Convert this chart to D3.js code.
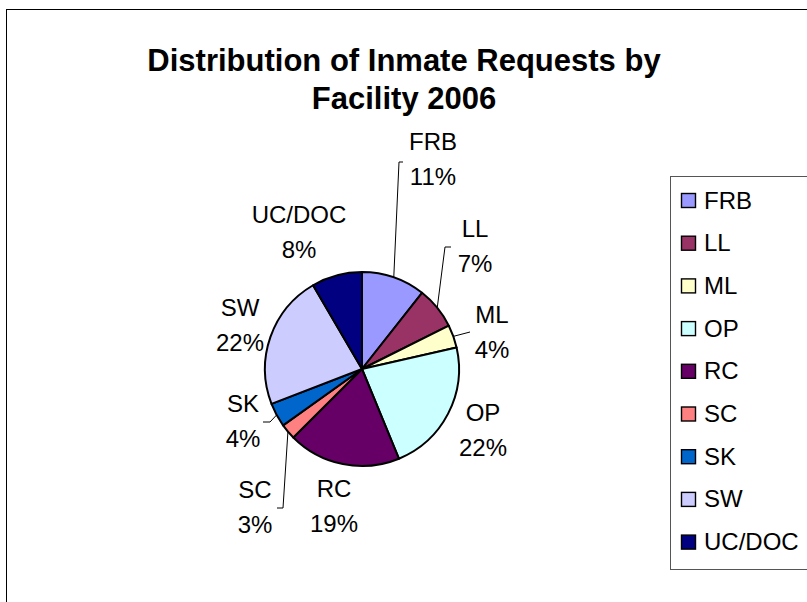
<!DOCTYPE html>
<html>
<head>
<meta charset="utf-8">
<script src="https://cdn.jsdelivr.net/npm/d3@7"></script>
<style>
  html, body { margin: 0; padding: 0; background: #fff; }
  svg { display: block; }
  text { font-family: "Liberation Sans", Arial, sans-serif; fill: #000; }
</style>
</head>
<body>
<svg id="chart" width="807" height="602"></svg>
<script>
// ---- data ----
const categories = ["FRB", "LL", "ML", "OP", "RC", "SC", "SK", "SW", "UC/DOC"];
const values = [10.6, 7.0, 3.8, 22.3, 18.7, 2.6, 4.0, 22.4, 8.4];
const colors = ["#9999FF", "#993366", "#FFFFCC", "#CCFFFF", "#660066", "#FF8080", "#0066CC", "#CCCCFF", "#000080"];
const titleLines = ["Distribution of Inmate Requests by", "Facility 2006"];

// ---- layout ----
const W = 807, H = 602;
const cx = 362, cy = 369, R = 97;
// label anchor: center x and first baseline (layout only)
const labelPos = {
  "FRB":    [433, 150],
  "LL":     [475, 237],
  "ML":     [492, 323],
  "OP":     [483, 421],
  "RC":     [334, 497],
  "SC":     [255, 498],
  "SK":     [243, 412],
  "SW":     [240, 316],
  "UC/DOC": [299, 223]
};
const lineGap = 35;
// leader line points after the slice edge point (layout only)
const leaders = {
  "FRB": [[399, 162], [403, 162]],
  "LL":  [[445, 247], [451, 247]],
  "ML":  [[470, 332]],
  "SK":  [[270, 422], [263, 422]],
  "SC":  [[283, 508], [277, 508]]
};

const svg = d3.select("#chart");

// outer frame (left and top borders visible)
svg.append("rect")
  .attr("x", 6.5).attr("y", 9.5)
  .attr("width", W + 20).attr("height", H + 20)
  .attr("fill", "#fff").attr("stroke", "#000").attr("stroke-width", 1);

// title
titleLines.forEach((t, i) => {
  svg.append("text")
    .attr("x", 404).attr("y", 71 + i * 38)
    .attr("text-anchor", "middle")
    .attr("font-size", 31).attr("font-weight", "bold")
    .text(t);
});

// pie
const total = d3.sum(values);
const data = categories.map((c, i) => ({ name: c, value: values[i], color: colors[i] }));
const pie = d3.pie().value(d => d.value).sort(null);
const arcs = pie(data);
const arc = d3.arc().innerRadius(0).outerRadius(R);
const edgeArc = d3.arc().innerRadius(R).outerRadius(R);

const g = svg.append("g").attr("transform", `translate(${cx},${cy})`);
g.selectAll("path.slice")
  .data(arcs)
  .join("path")
  .attr("class", "slice")
  .attr("d", arc)
  .attr("fill", d => d.data.color)
  .attr("stroke", "#000")
  .attr("stroke-width", 2)
  .attr("stroke-linejoin", "round");

// leader lines
arcs.forEach(a => {
  const pts = leaders[a.data.name];
  if (!pts) return;
  const c = edgeArc.centroid(a);
  const start = [cx + c[0], cy + c[1]];
  svg.append("path")
    .attr("d", d3.line()([start, ...pts]))
    .attr("fill", "none")
    .attr("stroke", "#000")
    .attr("stroke-width", 1);
});

// labels
arcs.forEach(a => {
  const p = labelPos[a.data.name];
  const pct = Math.round(a.data.value / total * 100) + "%";
  const t = svg.append("text")
    .attr("text-anchor", "middle")
    .attr("font-size", 24);
  t.append("tspan").attr("x", p[0]).attr("y", p[1]).text(a.data.name);
  t.append("tspan").attr("x", p[0]).attr("y", p[1] + lineGap).text(pct);
});

// legend
const lg = svg.append("g");
lg.append("rect")
  .attr("x", 670.5).attr("y", 176.5)
  .attr("width", 160).attr("height", 393)
  .attr("fill", "#fff").attr("stroke", "#555").attr("stroke-width", 1);
const rowY = d3.scalePoint().domain(categories).range([200, 541.6]);
categories.forEach((c, i) => {
  const y = rowY(c);
  lg.append("rect")
    .attr("x", 681.5).attr("y", y - 6.5)
    .attr("width", 14).attr("height", 14)
    .attr("fill", colors[i]).attr("stroke", "#000").attr("stroke-width", 1.4);
  lg.append("text")
    .attr("x", 704).attr("y", y + 8.5)
    .attr("font-size", 24)
    .text(c);
});
</script>
</body>
</html>
